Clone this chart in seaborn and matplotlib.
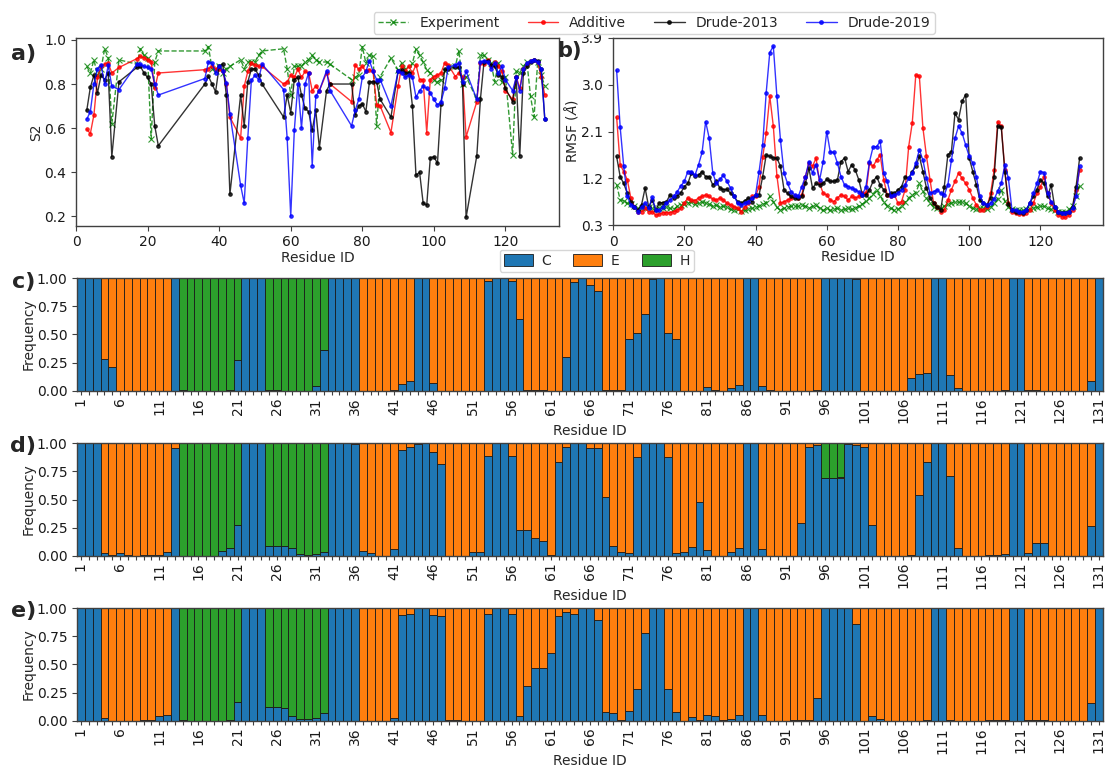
import numpy as np
import pandas as pd
import matplotlib
matplotlib.use("Agg")
import matplotlib.pyplot as plt
import seaborn as sns
from matplotlib.lines import Line2D
from matplotlib.patches import Patch

# ---------------------------------------------------------------- S2 data
s2_residues = [3, 4, 5, 6, 7, 8, 9, 10, 12, 17, 18, 19, 20, 21, 22, 23,
               36, 37, 38, 39, 40, 41, 42, 43, 46, 47, 48, 49, 50, 51, 52,
               58, 59, 60, 61, 62, 63, 64, 65, 66, 67, 68, 70, 71,
               77, 78, 79, 80, 81, 82, 83, 84, 85, 88, 90, 91, 92, 93, 94,
               95, 96, 97, 98, 99, 100, 101, 102, 103, 104, 106, 107, 108,
               109, 112, 113, 114, 115, 116, 117, 118, 119, 120, 122, 123,
               124, 125, 126, 127, 128, 129, 130, 131]
s2_experiment = [0.88, 0.85, 0.91, 0.84, 0.87, 0.96, 0.92, 0.62, 0.91, 0.89, 0.96, 0.93, 0.92, 0.55, 0.90, 0.95,
                 0.95, 0.97, 0.87, 0.86, 0.88, 0.85, 0.87, 0.88, 0.91, 0.87, 0.90, 0.90, 0.90, 0.93, 0.95,
                 0.96, 0.87, 0.75, 0.88, 0.88, 0.88, 0.90, 0.91, 0.93, 0.91, 0.90, 0.90, 0.89,
                 0.82, 0.83, 0.84, 0.97, 0.895, 0.93, 0.925, 0.61, 0.834, 0.917, 0.864, 0.895, 0.87, 0.85, 0.895,
                 0.958, 0.93, 0.90, 0.864, 0.85, 0.82, 0.81, 0.82, 0.857, 0.876, 0.88, 0.952, 0.80,
                 0.834, 0.73, 0.93, 0.93, 0.91, 0.895, 0.81, 0.895, 0.81, 0.834, 0.48, 0.857,
                 0.85, 0.88, 0.90, 0.745, 0.65, 0.90, 0.84, 0.79]
s2_additive = [0.595, 0.575, 0.66, 0.83, 0.88, 0.89, 0.895, 0.85, 0.875, 0.915, 0.925, 0.92, 0.91, 0.90, 0.78, 0.85,
               0.865, 0.87, 0.88, 0.87, 0.87, 0.86, 0.80, 0.65, 0.555, 0.79, 0.857, 0.895, 0.887, 0.88, 0.88,
               0.80, 0.81, 0.84, 0.83, 0.867, 0.83, 0.857, 0.85, 0.77, 0.79, 0.77, 0.85, 0.80,
               0.72, 0.887, 0.867, 0.88, 0.857, 0.864, 0.857, 0.705, 0.70, 0.58, 0.79, 0.88, 0.857, 0.88, 0.85,
               0.887, 0.82, 0.82, 0.58, 0.82, 0.834, 0.84, 0.85, 0.895, 0.887, 0.834, 0.85, 0.834,
               0.56, 0.72, 0.895, 0.89, 0.91, 0.88, 0.90, 0.88, 0.86, 0.77, 0.73, 0.834,
               0.78, 0.87, 0.89, 0.906, 0.91, 0.90, 0.83, 0.75]
s2_drude2013 = [0.68, 0.785, 0.84, 0.76, 0.84, 0.82, 0.85, 0.47, 0.81, 0.875, 0.88, 0.85, 0.83, 0.80, 0.61, 0.52,
                0.80, 0.835, 0.80, 0.765, 0.88, 0.89, 0.75, 0.30, 0.75, 0.61, 0.81, 0.867, 0.87, 0.84, 0.80,
                0.65, 0.75, 0.67, 0.82, 0.83, 0.75, 0.69, 0.675, 0.59, 0.68, 0.51, 0.77, 0.80,
                0.80, 0.66, 0.70, 0.71, 0.675, 0.81, 0.81, 0.81, 0.73, 0.65, 0.857, 0.864, 0.85, 0.85, 0.70,
                0.385, 0.40, 0.26, 0.25, 0.465, 0.47, 0.44, 0.71, 0.867, 0.87, 0.876, 0.876, 0.80,
                0.195, 0.475, 0.73, 0.90, 0.906, 0.887, 0.88, 0.84, 0.834, 0.78, 0.72, 0.83,
                0.475, 0.85, 0.88, 0.90, 0.91, 0.906, 0.867, 0.64]
s2_drude2019 = [0.64, 0.675, 0.80, 0.87, 0.885, 0.80, 0.885, 0.79, 0.775, 0.89, 0.89, 0.88, 0.875, 0.87, 0.80, 0.75,
                0.825, 0.90, 0.895, 0.85, 0.88, 0.86, 0.805, 0.665, 0.34, 0.26, 0.555, 0.816, 0.84, 0.82, 0.89,
                0.775, 0.555, 0.20, 0.59, 0.80, 0.60, 0.80, 0.85, 0.43, 0.745, 0.77, 0.86, 0.77,
                0.61, 0.68, 0.73, 0.83, 0.857, 0.906, 0.857, 0.82, 0.82, 0.70, 0.857, 0.85, 0.83, 0.84, 0.83,
                0.74, 0.77, 0.79, 0.78, 0.76, 0.73, 0.705, 0.72, 0.78, 0.876, 0.887, 0.895, 0.81,
                0.857, 0.73, 0.90, 0.906, 0.90, 0.87, 0.895, 0.85, 0.88, 0.82, 0.77, 0.83,
                0.77, 0.87, 0.895, 0.906, 0.91, 0.90, 0.87, 0.64]

# -------------------------------------------------------------- RMSF data
residues = list(range(1, 132))
rmsf_experiment = [1.08, 0.78, 0.76, 0.72, 0.70, 0.66, 0.62, 0.63, 0.62, 0.64,
                   0.62, 0.60, 0.63, 0.62, 0.64, 0.62, 0.60, 0.66, 0.68, 0.70,
                   0.72, 0.74, 0.70, 0.72, 0.74, 0.72, 0.70, 0.66, 0.68, 0.64,
                   0.66, 0.64, 0.60, 0.58, 0.60, 0.57, 0.58, 0.60, 0.62, 0.64,
                   0.66, 0.70, 0.72, 0.85, 0.75, 0.64, 0.58, 0.62, 0.64, 0.66,
                   0.66, 0.66, 0.68, 0.66, 0.62, 0.66, 0.68, 0.62, 0.58, 0.62,
                   0.58, 0.60, 0.62, 0.58, 0.60, 0.62, 0.60, 0.62, 0.66, 0.70,
                   0.76, 0.82, 0.90, 0.98, 0.86, 0.74, 0.66, 0.62, 0.58, 0.60,
                   0.66, 0.74, 0.82, 0.88, 0.92, 1.10, 0.95, 0.82, 0.72, 0.64,
                   0.62, 0.62, 0.66, 0.70, 0.72, 0.74, 0.74, 0.74, 0.72, 0.66,
                   0.62, 0.60, 0.62, 0.62, 0.60, 0.64, 0.72, 0.80, 0.98, 0.76,
                   0.64, 0.60, 0.58, 0.58, 0.58, 0.60, 0.60, 0.62, 0.64, 0.66,
                   0.66, 0.62, 0.60, 0.58, 0.56, 0.55, 0.56, 0.60, 0.66, 0.86,
                   1.05]
rmsf_additive = [2.38, 1.46, 1.33, 1.17, 0.82, 0.65, 0.56, 0.56, 0.62, 0.56,
                 0.56, 0.49, 0.51, 0.54, 0.54, 0.54, 0.56, 0.59, 0.62, 0.72,
                 0.82, 0.78, 0.77, 0.82, 0.85, 0.88, 0.85, 0.80, 0.78, 0.82,
                 0.78, 0.72, 0.69, 0.65, 0.62, 0.56, 0.65, 0.72, 0.85, 0.85,
                 1.04, 1.60, 2.07, 2.78, 2.20, 1.25, 0.72, 0.75, 0.78, 0.82,
                 0.85, 0.82, 0.88, 1.23, 1.49, 1.43, 1.59, 1.10, 0.91, 0.88,
                 0.78, 0.75, 0.82, 0.88, 0.85, 0.78, 0.85, 0.82, 0.85, 0.91,
                 0.91, 1.49, 1.43, 1.55, 1.65, 1.17, 0.88, 0.85, 0.88, 0.72,
                 0.75, 0.98, 1.81, 2.26, 3.19, 3.16, 2.17, 1.62, 1.17, 0.72,
                 0.65, 0.56, 0.59, 0.78, 0.98, 1.14, 1.30, 1.20, 1.10, 0.98,
                 0.82, 0.69, 0.59, 0.59, 0.65, 0.91, 1.36, 2.29, 2.20, 1.36,
                 0.72, 0.56, 0.53, 0.51, 0.51, 0.53, 0.59, 0.72, 0.91, 1.04,
                 1.23, 0.91, 0.72, 0.59, 0.49, 0.46, 0.45, 0.49, 0.59, 0.98,
                 1.36]
rmsf_drude2013 = [1.62, 1.23, 1.10, 0.91, 0.75, 0.65, 0.59, 0.69, 1.01, 0.65,
                  0.78, 0.59, 0.73, 0.73, 0.75, 0.88, 0.82, 0.86, 0.92, 1.04,
                  1.10, 1.30, 1.25, 1.26, 1.33, 1.23, 1.23, 1.07, 1.14, 1.01,
                  0.98, 0.99, 0.91, 0.85, 0.75, 0.72, 0.77, 0.82, 0.75, 0.88,
                  0.88, 1.23, 1.65, 1.62, 1.59, 1.59, 1.43, 0.98, 0.91, 0.85,
                  0.82, 0.82, 0.85, 1.10, 1.39, 1.01, 1.10, 1.07, 1.10, 1.18,
                  1.14, 1.14, 1.17, 1.52, 1.59, 1.33, 1.46, 1.36, 1.17, 0.88,
                  0.88, 0.98, 1.14, 1.23, 1.07, 0.98, 0.88, 0.91, 0.91, 0.98,
                  1.04, 1.23, 1.20, 1.33, 1.43, 1.62, 1.33, 1.01, 0.82, 0.72,
                  0.65, 0.59, 1.04, 1.65, 1.71, 2.45, 2.33, 2.68, 2.81, 1.59,
                  1.33, 1.07, 0.78, 0.72, 0.69, 0.82, 1.23, 2.20, 2.18, 1.33,
                  0.70, 0.59, 0.56, 0.56, 0.53, 0.59, 0.72, 0.85, 0.98, 1.17,
                  1.10, 0.85, 1.07, 0.65, 0.56, 0.53, 0.53, 0.56, 0.65, 1.04,
                  1.59]
rmsf_drude2019 = [3.28, 2.18, 1.43, 0.85, 0.69, 0.65, 0.56, 0.65, 0.72, 0.62,
                  0.83, 0.59, 0.58, 0.65, 0.72, 0.78, 0.85, 0.94, 1.05, 1.14,
                  1.33, 1.33, 1.26, 1.46, 1.70, 2.29, 1.97, 1.30, 1.10, 1.18,
                  1.26, 1.14, 1.01, 0.85, 0.72, 0.69, 0.72, 0.75, 0.82, 0.88,
                  1.33, 1.84, 2.85, 3.62, 3.74, 2.78, 1.94, 1.30, 1.10, 0.94,
                  0.88, 0.85, 1.04, 1.23, 1.52, 1.30, 1.46, 1.17, 1.52, 2.10,
                  1.70, 1.70, 1.49, 1.23, 1.07, 1.04, 1.01, 0.98, 0.94, 0.88,
                  1.04, 1.52, 1.80, 1.81, 1.91, 1.30, 1.14, 0.85, 0.88, 0.91,
                  0.98, 1.07, 1.20, 1.30, 1.49, 1.75, 1.55, 1.20, 0.91, 0.94,
                  0.98, 0.91, 0.88, 1.07, 1.55, 1.97, 2.20, 2.07, 1.84, 1.62,
                  1.49, 1.23, 0.85, 0.72, 0.69, 0.72, 0.80, 0.95, 1.10, 1.46,
                  1.20, 0.59, 0.59, 0.56, 0.56, 0.59, 0.72, 0.91, 1.10, 1.33,
                  1.31, 0.91, 0.75, 0.65, 0.56, 0.53, 0.54, 0.56, 0.62, 0.85,
                  1.43]

# ------------------------------------------- secondary-structure frequencies
c_coil = [1, 1, 1, 0.28, 0.21, 0, 0, 0, 0, 0,
          0, 0, 1, 0.005, 0, 0, 0, 0, 0, 0.01,
          0.27, 1, 1, 1, 0.005, 0.005, 0, 0, 0, 0,
          0.04, 0.36, 1, 1, 1, 1, 0, 0, 0, 0,
          0.005, 0.06, 0.09, 1, 1, 0.07, 0, 0, 0, 0,
          0, 0, 0.98, 1, 1, 0.98, 0.64, 0.005, 0.01, 0.01,
          0, 0, 0.30, 0.97, 1, 0.94, 0.89, 0.005, 0.01, 0.005,
          0.46, 0.51, 0.68, 0.99, 1, 0.51, 0.46, 0, 0, 0,
          0.03, 0.005, 0, 0.02, 0.05, 1, 1, 0.04, 0.005, 0,
          0, 0, 0, 0, 0.01, 1, 1, 1, 1, 0.99,
          0, 0, 0, 0, 0, 0, 0.11, 0.15, 0.155, 1,
          1, 0.14, 0.02, 0, 0, 0, 0, 0, 0.01, 1,
          1, 0.01, 0.005, 0, 0, 0, 0, 0, 0, 0.09,
          1]
c_helix = [0, 0, 0, 0, 0, 0, 0, 0, 0, 0,
           0, 0, 0, 0.995, 1, 1, 1, 1, 1, 0.99,
           0.73, 0, 0, 0, 0.995, 0.995, 1, 1, 1, 1,
           0.96, 0.64, 0, 0, 0, 0, 0, 0, 0, 0,
           0, 0, 0, 0, 0, 0, 0, 0, 0, 0,
           0, 0, 0, 0, 0, 0, 0, 0, 0, 0,
           0, 0, 0, 0, 0, 0, 0, 0, 0, 0,
           0, 0, 0, 0, 0, 0, 0, 0, 0, 0,
           0, 0, 0, 0, 0, 0, 0, 0, 0, 0,
           0, 0, 0, 0, 0, 0, 0, 0, 0, 0,
           0, 0, 0, 0, 0, 0, 0, 0, 0, 0,
           0, 0, 0, 0, 0, 0, 0, 0, 0, 0,
           0, 0, 0, 0, 0, 0, 0, 0, 0, 0,
           0]

d_coil = [1, 1, 1, 0.02, 0.01, 0.02, 0.01, 0, 0.005, 0.01,
          0.01, 0.03, 0.955, 0, 0, 0, 0, 0, 0.04, 0.07,
          0.27, 1, 1, 1, 0.09, 0.09, 0.09, 0.065, 0.015, 0.01,
          0.015, 0.035, 1, 1, 1, 0.995, 0.045, 0.02, 0, 0,
          0.06, 0.94, 0.965, 0.995, 1, 0.925, 0.82, 0, 0, 0,
          0.03, 0.03, 0.89, 1, 1, 0.89, 0.23, 0.23, 0.155, 0.135,
          0.01, 0.83, 0.965, 1, 1, 0.96, 0.955, 0.52, 0.085, 0.03,
          0.025, 0.88, 1, 1, 1, 0.88, 0.025, 0.03, 0.075, 0.48,
          0.055, 0, 0, 0.035, 0.065, 1, 1, 0.06, 0, 0,
          0, 0, 0.29, 0.965, 0.985, 0.695, 0.695, 0.69, 0.995, 0.985,
          0.965, 0.27, 0, 0, 0, 0, 0.005, 0.54, 0.83, 1,
          1, 0.71, 0.07, 0, 0, 0, 0.005, 0.005, 0.018, 1,
          1, 0.02, 0.115, 0.115, 0, 0, 0, 0, 0, 0.26,
          1]
d_helix = [0, 0, 0, 0, 0, 0, 0, 0, 0, 0,
           0, 0, 0, 1, 1, 1, 1, 1, 0.96, 0.93,
           0.73, 0, 0, 0, 0.91, 0.91, 0.91, 0.935, 0.985, 0.99,
           0.985, 0.965, 0, 0, 0, 0, 0, 0, 0, 0,
           0, 0, 0, 0, 0, 0, 0, 0, 0, 0,
           0, 0, 0, 0, 0, 0, 0, 0, 0, 0,
           0, 0, 0, 0, 0, 0, 0, 0, 0, 0,
           0, 0, 0, 0, 0, 0, 0, 0, 0, 0,
           0, 0, 0, 0, 0, 0, 0, 0, 0, 0,
           0, 0, 0, 0, 0, 0.305, 0.305, 0.30, 0, 0,
           0, 0, 0, 0, 0, 0, 0, 0, 0, 0,
           0, 0, 0, 0, 0, 0, 0, 0, 0, 0,
           0, 0, 0, 0, 0, 0, 0, 0, 0, 0,
           0]

e_coil = [1, 1, 1, 0.02, 0, 0, 0, 0, 0.005, 0.005,
          0.04, 0.05, 1, 0.01, 0, 0, 0, 0, 0, 0.005,
          0.17, 1, 1, 1, 0.12, 0.12, 0.115, 0.04, 0.015, 0.015,
          0.02, 0.065, 1, 1, 1, 1, 0, 0, 0, 0,
          0.02, 0.94, 0.945, 1, 1, 0.94, 0.93, 0.01, 0.005, 0,
          0, 0, 0.95, 1, 1, 0.95, 0.04, 0.31, 0.465, 0.47,
          0.60, 0.93, 0.965, 0.95, 1, 1, 0.90, 0.075, 0.07, 0.005,
          0.09, 0.28, 0.78, 1, 1, 0.28, 0.08, 0, 0.03, 0.005,
          0.05, 0.04, 0.01, 0.015, 0.05, 1, 1, 0.05, 0, 0,
          0, 0.003, 0.003, 0.003, 0.20, 1, 1, 1, 1, 0.86,
          0, 0.04, 0.015, 0, 0, 0, 0, 0, 0.01, 1,
          1, 0.01, 0, 0, 0, 0, 0.003, 0.003, 0.005, 1,
          1, 0.01, 0.01, 0.01, 0, 0, 0, 0, 0, 0.16,
          1]
e_helix = [0, 0, 0, 0, 0, 0, 0, 0, 0, 0,
           0, 0, 0, 0.99, 1, 1, 1, 1, 1, 0.995,
           0.83, 0, 0, 0, 0.88, 0.88, 0.885, 0.96, 0.985, 0.985,
           0.98, 0.935, 0, 0, 0, 0, 0, 0, 0, 0,
           0, 0, 0, 0, 0, 0, 0, 0, 0, 0,
           0, 0, 0, 0, 0, 0, 0, 0, 0, 0,
           0, 0, 0, 0, 0, 0, 0, 0, 0, 0,
           0, 0, 0, 0, 0, 0, 0, 0, 0, 0,
           0, 0, 0, 0, 0, 0, 0, 0, 0, 0,
           0, 0, 0, 0, 0, 0, 0, 0, 0, 0,
           0, 0, 0, 0, 0, 0, 0, 0, 0, 0,
           0, 0, 0, 0, 0, 0, 0, 0, 0, 0,
           0, 0, 0, 0, 0, 0, 0, 0, 0, 0,
           0]

series_names = ["Experiment", "Additive", "Drude-2013", "Drude-2019"]
ss_labels = ["C", "E", "H"]

# ------------------------------------------------------------------ styling
sns.set_theme(style="ticks")
plt.rcParams["font.family"] = ["DejaVu Sans"]
plt.rcParams["axes.edgecolor"] = "0.25"
plt.rcParams["axes.linewidth"] = 1.0
plt.rcParams["xtick.color"] = "0.25"
plt.rcParams["ytick.color"] = "0.25"
plt.rcParams["xtick.labelcolor"] = "0.1"
plt.rcParams["ytick.labelcolor"] = "0.1"

line_styles = {
    "Experiment": dict(color="green", linestyle="--", marker="x", markersize=4),
    "Additive": dict(color="red", linestyle="-", marker="o", markersize=2.5),
    "Drude-2013": dict(color="black", linestyle="-", marker="o", markersize=2.5),
    "Drude-2019": dict(color="blue", linestyle="-", marker="o", markersize=2.5),
}
ss_palette = {"C": "#1f77b4", "E": "#ff7f0e", "H": "#2ca02c"}

FS = 10

fig = plt.figure(figsize=(11.05, 7.67), dpi=100)
ax_a = fig.add_axes([0.0688, 0.7057, 0.4372, 0.2448])
ax_b = fig.add_axes([0.5548, 0.7066, 0.4432, 0.2439])
ax_c = fig.add_axes([0.0697, 0.4906, 0.9283, 0.1466])
ax_d = fig.add_axes([0.0697, 0.2755, 0.9283, 0.1465])
ax_e = fig.add_axes([0.0697, 0.0604, 0.9283, 0.1465])


def draw_lines(ax, x, ys):
    for name, y in zip(series_names, ys):
        st = line_styles[name]
        sns.lineplot(x=x, y=y, ax=ax, color=st["color"], linestyle=st["linestyle"],
                     marker=st["marker"], markersize=st["markersize"],
                     markeredgecolor=st["color"], markerfacecolor=st["color"],
                     markeredgewidth=0.8, linewidth=1.0, alpha=0.8,
                     errorbar=None, legend=False)
    ax.tick_params(labelsize=FS, length=3.5, width=0.8)
    ax.set_xlabel("Residue ID", fontsize=FS, labelpad=1)


# (a) order parameters
draw_lines(ax_a, s2_residues, [s2_experiment, s2_additive, s2_drude2013, s2_drude2019])
ax_a.set_xlim(0, 135)
ax_a.set_ylim(0.157, 1.009)
ax_a.set_xticks([0, 20, 40, 60, 80, 100, 120])
ax_a.set_yticks([0.2, 0.4, 0.6, 0.8, 1.0])
ax_a.set_yticklabels(["0.2", "0.4", "0.6", "0.8", "1.0"])
ax_a.set_ylabel("S2", fontsize=FS, labelpad=1)

# (b) RMSF
draw_lines(ax_b, residues, [rmsf_experiment, rmsf_additive, rmsf_drude2013, rmsf_drude2019])
ax_b.set_xlim(0, 137.5)
ax_b.set_ylim(0.3, 3.9)
ax_b.set_xticks([0, 20, 40, 60, 80, 100, 120])
ax_b.set_yticks([0.3, 1.2, 2.1, 3.0, 3.9])
ax_b.set_yticklabels(["0.3", "1.2", "2.1", "3.0", "3.9"])
ax_b.set_ylabel(r"RMSF ($\AA$)", fontsize=FS, labelpad=1)

# (c)-(e) stacked secondary-structure frequencies
for ax, coil, helix in [(ax_c, c_coil, c_helix), (ax_d, d_coil, d_helix), (ax_e, e_coil, e_helix)]:
    coil_a = np.array(coil, dtype=float)
    helix_a = np.array(helix, dtype=float)
    strand_a = np.clip(1.0 - coil_a - helix_a, 0.0, None)
    wide = pd.DataFrame({"Residue": residues, "C": coil_a, "E": strand_a, "H": helix_a})
    long = wide.melt(id_vars="Residue", var_name="SS", value_name="Frequency")
    sns.histplot(data=long, x="Residue", weights="Frequency", hue="SS",
                 hue_order=["H", "E", "C"], multiple="stack", discrete=True,
                 shrink=1.0, palette=ss_palette, alpha=1.0, edgecolor="0.1",
                 linewidth=0.6, legend=False, ax=ax)
    ax.set_xlim(0.5, 131.5)
    ax.set_ylim(0, 1)
    ax.set_xticks(residues)
    ax.set_xticklabels([str(r) if (r - 1) % 5 == 0 else "" for r in residues],
                       rotation=90)
    ax.set_yticks([0, 0.25, 0.5, 0.75, 1.0])
    ax.set_yticklabels(["0.00", "0.25", "0.50", "0.75", "1.00"])
    ax.tick_params(axis="x", labelsize=FS, length=3, width=0.8, pad=1.5)
    ax.tick_params(axis="y", labelsize=FS, length=3.5, width=0.8)
    ax.set_xlabel("Residue ID", fontsize=FS, labelpad=0)
    ax.set_ylabel("Frequency", fontsize=FS, labelpad=1)

# legends
line_handles = [Line2D([0], [0], color=line_styles[n]["color"], linestyle=line_styles[n]["linestyle"],
                       marker=line_styles[n]["marker"], markersize=line_styles[n]["markersize"],
                       markeredgecolor=line_styles[n]["color"], linewidth=1.0, alpha=0.8)
                for n in series_names]
fig.legend(line_handles, series_names, loc="center", bbox_to_anchor=(0.592, 0.970),
           ncol=4, fontsize=FS, frameon=True, handlelength=2.2, columnspacing=2.0,
           borderpad=0.3, edgecolor="0.8", fancybox=True)

ss_handles = [Patch(facecolor=ss_palette[s], edgecolor="0.1", linewidth=0.6) for s in ss_labels]
fig.legend(ss_handles, ss_labels, loc="center", bbox_to_anchor=(0.540, 0.660),
           ncol=3, fontsize=FS, frameon=True, handlelength=2.1, handleheight=0.9,
           handletextpad=0.6, columnspacing=1.6, borderpad=0.3, edgecolor="0.8",
           fancybox=True)

# panel labels
for txt, x, y, fs in [("a)", 0.021, 0.929, 16), ("b)", 0.515, 0.933, 15),
                      ("c)", 0.021, 0.632, 16), ("d)", 0.021, 0.418, 16),
                      ("e)", 0.021, 0.203, 16)]:
    fig.text(x, y, txt, fontsize=fs, fontweight="bold", ha="center", va="center")

fig.savefig("out.png", dpi=100)
